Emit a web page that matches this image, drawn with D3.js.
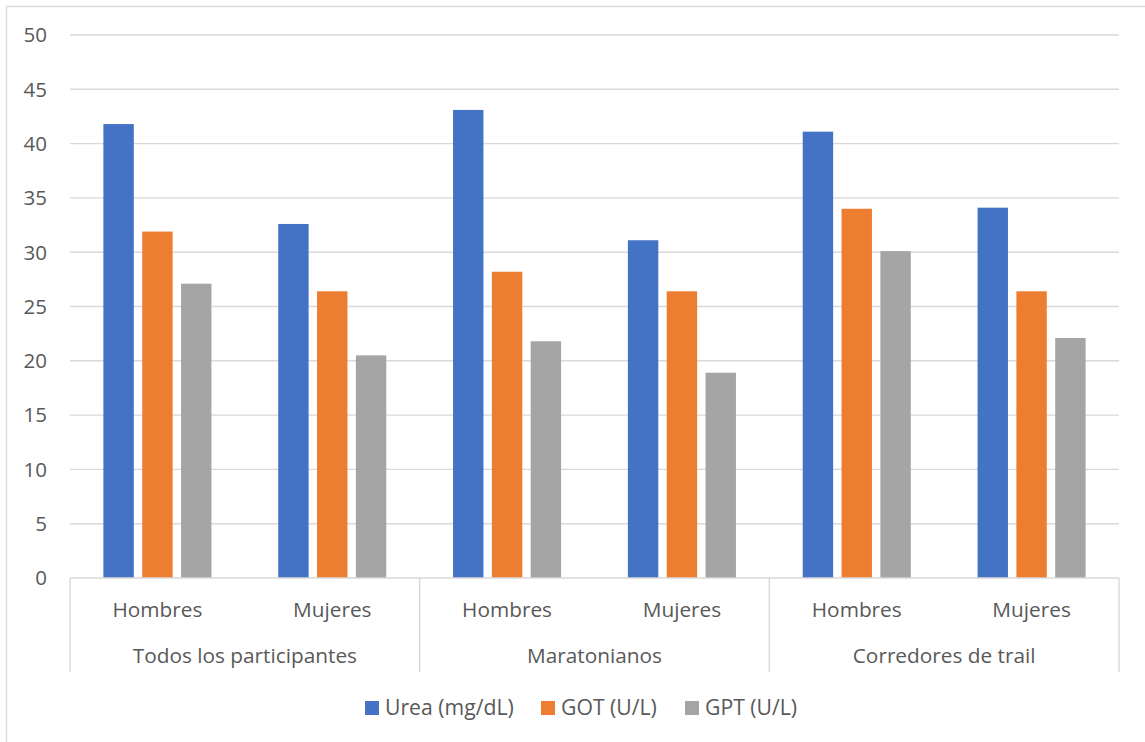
<!DOCTYPE html>
<html>
<head>
<meta charset="utf-8">
<script src="https://cdn.jsdelivr.net/npm/d3@7"></script>
<style>
  html, body { margin: 0; padding: 0; background: #fff; }
  svg { display: block; font-family: "Open Sans", sans-serif; }
</style>
</head>
<body>
<svg id="chart" width="1145" height="742"></svg>
<script>
// Groups of runners and the sex split inside each group
const groups = ["Todos los participantes", "Maratonianos", "Corredores de trail"];
const sexes = ["Hombres", "Mujeres"];
const seriesNames = ["Urea (mg/dL)", "GOT (U/L)", "GPT (U/L)"];
const seriesColors = ["#4472C4", "#ED7D31", "#A5A5A5"];

// Values per sub-category, in order: group × sex
const urea = [41.8, 32.6, 43.1, 31.1, 41.1, 34.1];
const got  = [31.9, 26.4, 28.2, 26.4, 34.0, 26.4];
const gpt  = [27.1, 20.5, 21.8, 18.9, 30.1, 22.1];
const seriesValues = [urea, got, gpt];

const yTicks = [0, 5, 10, 15, 20, 25, 30, 35, 40, 45, 50];

const svg = d3.select("#chart");
const W = 1145, H = 742;
const plot = { left: 70, right: 1119, top: 35, bottom: 578 };
const textColor = "#595959";
const lineColor = "#D9D9D9";

// Outer chart frame
svg.append("rect")
  .attr("x", 6.5).attr("y", 6.5)
  .attr("width", W + 20).attr("height", H + 20)
  .attr("fill", "none").attr("stroke", lineColor).attr("stroke-width", 1.3);

// Sub-categories: one per (group, sex)
const subcats = [];
groups.forEach((g, gi) => sexes.forEach((s, si) => subcats.push({ key: gi + "-" + si, group: g, sex: s, gi })));

const x0 = d3.scaleBand()
  .domain(subcats.map(d => d.key))
  .range([plot.left, plot.right])
  .padding(0);

const x1 = d3.scaleBand()
  .domain(seriesNames)
  .range([0, x0.bandwidth()])
  .paddingInner(0.217)
  .paddingOuter(0.86);

const y = d3.scaleLinear().domain([0, 50]).range([plot.bottom, plot.top]);

// Horizontal gridlines
svg.append("g").selectAll("line")
  .data(yTicks.filter(t => t > 0))
  .join("line")
  .attr("x1", plot.left).attr("x2", plot.right)
  .attr("y1", d => y(d)).attr("y2", d => y(d))
  .attr("stroke", lineColor).attr("stroke-width", 1.4);

// Y tick labels
svg.append("g").selectAll("text")
  .data(yTicks)
  .join("text")
  .attr("x", 47).attr("y", d => y(d))
  .attr("dy", "0.36em")
  .attr("text-anchor", "end")
  .attr("font-size", 20.5)
  .attr("fill", textColor)
  .text(d => d);

// Bars
const barData = [];
subcats.forEach((c, ci) => seriesNames.forEach((s, si) => barData.push({ cat: c.key, series: s, value: seriesValues[si][ci], color: seriesColors[si] })));

svg.append("g").selectAll("rect")
  .data(barData)
  .join("rect")
  .attr("x", d => x0(d.cat) + x1(d.series))
  .attr("y", d => y(d.value))
  .attr("width", x1.bandwidth())
  .attr("height", d => y(0) - y(d.value))
  .attr("fill", d => d.color);

// Category axis: baseline and group separators
const axisBottom = 672;
svg.append("line")
  .attr("x1", plot.left).attr("x2", plot.right)
  .attr("y1", y(0)).attr("y2", y(0))
  .attr("stroke", lineColor).attr("stroke-width", 1.4);

const groupWidth = x0.bandwidth() * sexes.length;
const separators = d3.range(groups.length + 1).map(i => plot.left + i * groupWidth);
svg.append("g").selectAll("line")
  .data(separators)
  .join("line")
  .attr("x1", d => d).attr("x2", d => d)
  .attr("y1", y(0)).attr("y2", axisBottom)
  .attr("stroke", lineColor).attr("stroke-width", 1.4);

// Sex labels
svg.append("g").selectAll("text")
  .data(subcats)
  .join("text")
  .attr("x", d => x0(d.key) + x0.bandwidth() / 2)
  .attr("y", 617)
  .attr("text-anchor", "middle")
  .attr("font-size", 20.8)
  .attr("fill", textColor)
  .text(d => d.sex);

// Group labels
svg.append("g").selectAll("text")
  .data(groups)
  .join("text")
  .attr("x", (d, i) => plot.left + (i + 0.5) * groupWidth)
  .attr("y", 663)
  .attr("text-anchor", "middle")
  .attr("font-size", 20.8)
  .attr("fill", textColor)
  .text(d => d);

// Legend
const legendX = [365, 541, 685];
const legend = svg.append("g").selectAll("g")
  .data(seriesNames)
  .join("g")
  .attr("transform", (d, i) => `translate(${legendX[i]},701)`);
legend.append("rect")
  .attr("width", 14).attr("height", 14)
  .attr("fill", (d, i) => seriesColors[i]);
legend.append("text")
  .attr("x", 20).attr("y", 14)
  .attr("font-size", 21.2)
  .attr("fill", textColor)
  .text(d => d);
</script>
</body>
</html>
